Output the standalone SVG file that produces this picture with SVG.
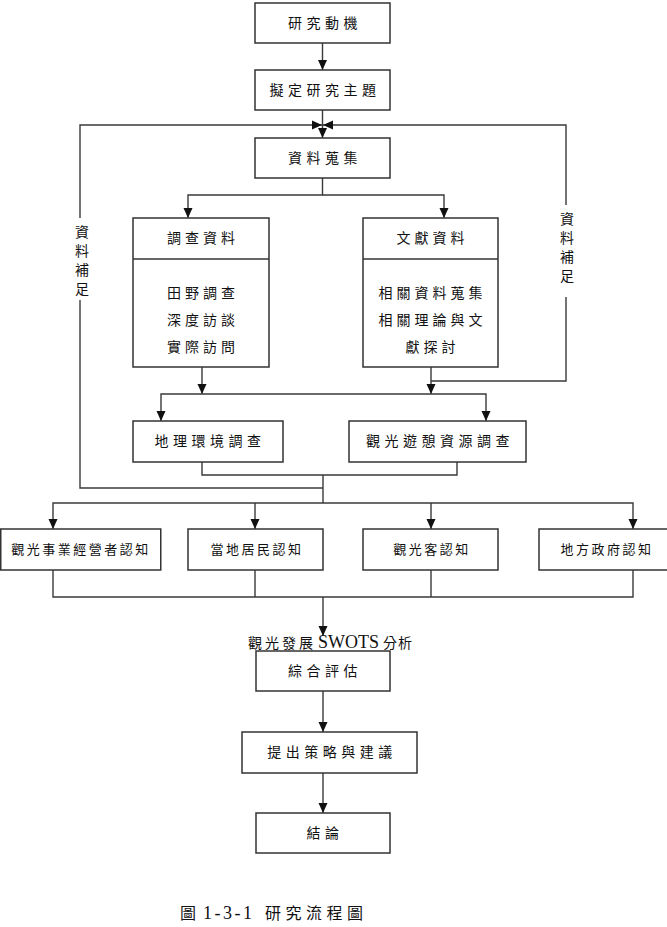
<svg xmlns="http://www.w3.org/2000/svg" width="667" height="927" viewBox="0 0 667 927">
<style>
text{font-family:"Liberation Serif","Noto Sans CJK TC",serif;fill:#111;}
.box{fill:#fff;stroke:#333;stroke-width:1.5;}
.ln{fill:none;stroke:#3a3a3a;stroke-width:1.4;}
.a{font-size:14px;letter-spacing:4.5px;text-anchor:middle;}
.b{font-size:14px;letter-spacing:4px;text-anchor:middle;}
.c{font-size:13px;letter-spacing:2.5px;text-anchor:middle;}
.v{font-size:14px;text-anchor:middle;}
.s{font-size:14px;letter-spacing:3px;}
.lat{font-size:18px;letter-spacing:0;}
.cap{font-size:16px;letter-spacing:4.5px;}
.capn{font-size:18px;letter-spacing:2.5px;}
</style>
<defs>
<marker id="ar" markerUnits="userSpaceOnUse" markerWidth="10" markerHeight="10" viewBox="0 0 10 10" refX="10" refY="5" orient="auto">
<path d="M0,0.5 L10,5 L0,9.5 Z" fill="#111"/>
</marker>
</defs>
<g id="connectors">
<line class="ln" x1="322.5" y1="43" x2="322.5" y2="70" marker-end="url(#ar)"/>
<line class="ln" x1="322.5" y1="110" x2="322.5" y2="138" marker-end="url(#ar)"/>
<path class="ln" d="M323,488 H80 V300"/>
<path class="ln" d="M80,218 V125 H322" marker-end="url(#ar)"/>
<path class="ln" d="M431,381 H566 V297"/>
<path class="ln" d="M566,205 V125 H323" marker-end="url(#ar)"/>
<path class="ln" d="M322.5,178 V195 H188 V218" marker-end="url(#ar)"/>
<path class="ln" d="M322.5,195 H444 V218" marker-end="url(#ar)"/>
<line class="ln" x1="202" y1="367" x2="202" y2="394" marker-end="url(#ar)"/>
<line class="ln" x1="431" y1="367" x2="431" y2="394" marker-end="url(#ar)"/>
<path class="ln" d="M323,394 H161 V421" marker-end="url(#ar)"/>
<path class="ln" d="M323,394 H486 V421" marker-end="url(#ar)"/>
<path class="ln" d="M202,462 V475 H457 V462"/>
<path class="ln" d="M323,475 V503"/>
<path class="ln" d="M323,503 H53 V529" marker-end="url(#ar)"/>
<path class="ln" d="M323,503 H633 V529" marker-end="url(#ar)"/>
<line class="ln" x1="255" y1="503" x2="255" y2="529" marker-end="url(#ar)"/>
<line class="ln" x1="431" y1="503" x2="431" y2="529" marker-end="url(#ar)"/>
<path class="ln" d="M53,570 V597 H633 V570"/>
<line class="ln" x1="255" y1="570" x2="255" y2="597"/>
<line class="ln" x1="431" y1="570" x2="431" y2="597"/>
<line class="ln" x1="323" y1="597" x2="323" y2="636" marker-end="url(#ar)"/>
<line class="ln" x1="323" y1="691" x2="323" y2="732" marker-end="url(#ar)"/>
<line class="ln" x1="323" y1="773" x2="323" y2="813" marker-end="url(#ar)"/>
<g id="label-left">
<text class="v" x="82" y="237">資</text>
<text class="v" x="82" y="256">料</text>
<text class="v" x="82" y="275">補</text>
<text class="v" x="82" y="294">足</text>
</g>
<g id="label-right">
<text class="v" x="567" y="224">資</text>
<text class="v" x="567" y="243">料</text>
<text class="v" x="567" y="262">補</text>
<text class="v" x="567" y="281">足</text>
</g>
<text id="label-swots" class="s" y="648"><tspan x="248">觀光發展</tspan><tspan class="lat" x="318">SWOTS</tspan><tspan x="383" style="letter-spacing:1px">分析</tspan></text>
</g>
<g id="n1"><rect class="box" x="255" y="3" width="135" height="40"/><text class="a" x="325" y="28">研究動機</text></g>
<g id="n2"><rect class="box" x="255" y="70" width="135" height="40"/><text class="a" x="325" y="95">擬定研究主題</text></g>
<g id="n3"><rect class="box" x="255" y="138" width="135" height="40"/><text class="a" x="325" y="163">資料蒐集</text></g>
<g id="n4"><rect class="box" x="133" y="218" width="136" height="149"/><line class="box" x1="133" y1="259" x2="269" y2="259"/>
<text class="b" x="203" y="243">調查資料</text>
<text class="b" x="203" y="298">田野調查</text>
<text class="b" x="203" y="325">深度訪談</text>
<text class="b" x="203" y="352">實際訪問</text></g>
<g id="n5"><rect class="box" x="363" y="218" width="135" height="149"/><line class="box" x1="363" y1="259" x2="498" y2="259"/>
<text class="b" x="432.5" y="243">文獻資料</text>
<text class="b" x="432.5" y="298">相關資料蒐集</text>
<text class="b" x="432.5" y="325">相關理論與文</text>
<text class="b" x="432.5" y="352">獻探討</text></g>
<g id="n6"><rect class="box" x="133" y="421" width="150" height="41"/><text class="a" x="210" y="446">地理環境調查</text></g>
<g id="n7"><rect class="box" x="349" y="421" width="177" height="41"/><text class="a" x="440" y="446">觀光遊憩資源調查</text></g>
<g id="n8"><rect class="box" x="0.75" y="529" width="160" height="41"/><text class="c" x="81" y="554">觀光事業經營者認知</text></g>
<g id="n9"><rect class="box" x="188" y="529" width="135" height="41"/><text class="c" x="257" y="554">當地居民認知</text></g>
<g id="n10"><rect class="box" x="363" y="529" width="135" height="41"/><text class="c" x="432" y="554">觀光客認知</text></g>
<g id="n11"><rect class="box" x="539" y="529" width="133" height="41"/><text class="c" x="607" y="554">地方政府認知</text></g>
<g id="n12"><rect class="box" x="256" y="651" width="134" height="40"/><text class="a" x="325" y="676">綜合評估</text></g>
<g id="n13"><rect class="box" x="242" y="732" width="175" height="41"/><text class="a" x="332" y="757">提出策略與建議</text></g>
<g id="n14"><rect class="box" x="256" y="813" width="134" height="40"/><text class="a" x="325" y="838">結論</text></g>
<text id="caption" class="cap" y="919"><tspan x="180">圖</tspan><tspan class="capn" x="203">1-3-1</tspan><tspan x="265">研究流程圖</tspan></text>
</svg>
